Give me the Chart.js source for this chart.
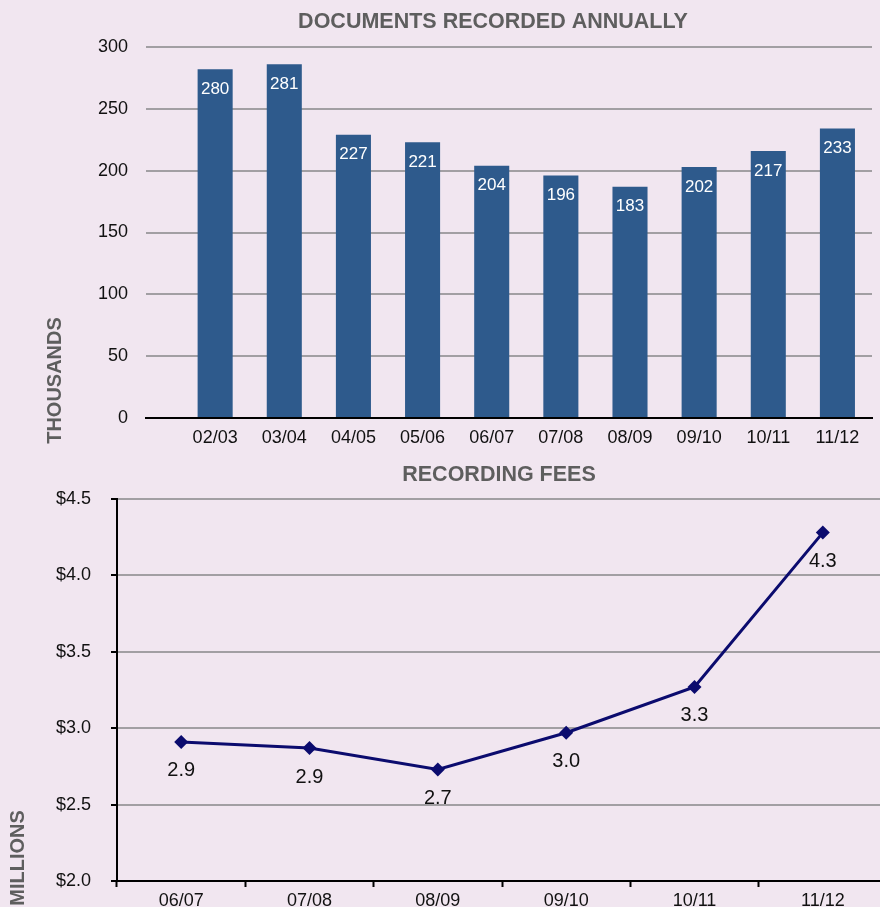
<!DOCTYPE html>
<html><head><meta charset="utf-8">
<script src="https://cdn.jsdelivr.net/npm/chart.js@4.4.0/dist/chart.umd.min.js"></script>
<style>
html,body{margin:0;padding:0;width:880px;height:907px;overflow:hidden;background:#F1E6F0;}
#c1{position:absolute;left:0;top:0;}
#c2{position:absolute;left:0;top:455px;}
</style></head><body>
<canvas id="c1" width="880" height="458"></canvas>
<canvas id="c2" width="900" height="470"></canvas>
<script>
// ---- Documents recorded annually (thousands)
const docYears = ['02/03','03/04','04/05','05/06','06/07','07/08','08/09','09/10','10/11','11/12'];
const docValues = [282, 286, 229, 223, 204, 196, 187, 203, 216, 234];
const docLabels = ['280','281','227','221','204','196','183','202','217','233'];
const docTickLabels = ['0','50','100','150','200','250','300'];

// ---- Recording fees (millions)
const feeYears = ['06/07','07/08','08/09','09/10','10/11','11/12'];
const feeValues = [2.91, 2.87, 2.73, 2.97, 3.27, 4.28];
const feeLabels = ['2.9','2.9','2.7','3.0','3.3','4.3'];
const feeTickLabels = ['$2.0','$2.5','$3.0','$3.5','$4.0','$4.5'];

const F = "'Liberation Sans', Arial, Helvetica, sans-serif";
const TITLE_GRAY = '#5E5E5E';
const GRID = '#A29FA3';

function textPlugin(id, items) {
  return {
    id,
    afterDraw(chart) {
      const ctx = chart.ctx;
      items.forEach(it => {
        ctx.save();
        ctx.translate(it.x, it.y);
        if (it.rot) ctx.rotate(it.rot);
        ctx.font = it.font;
        ctx.fillStyle = it.color;
        ctx.textAlign = 'center';
        ctx.textBaseline = 'middle';
        ctx.fillText(it.text, 0, 0);
        ctx.restore();
      });
    }
  };
}

const barLabelPlugin = {
  id: 'barLabels',
  afterDatasetsDraw(chart) {
    const ctx = chart.ctx;
    const meta = chart.getDatasetMeta(0);
    ctx.save();
    ctx.fillStyle = '#FFFFFF';
    ctx.font = '17px ' + F;
    ctx.textAlign = 'center';
    ctx.textBaseline = 'middle';
    meta.data.forEach((el, i) => ctx.fillText(docLabels[i], el.x, el.y + 20));
    ctx.restore();
  }
};

const pointLabelPlugin = {
  id: 'pointLabels',
  afterDatasetsDraw(chart) {
    const ctx = chart.ctx;
    const meta = chart.getDatasetMeta(0);
    ctx.save();
    ctx.fillStyle = '#111111';
    ctx.font = '20px ' + F;
    ctx.textAlign = 'center';
    ctx.textBaseline = 'middle';
    meta.data.forEach((el, i) => ctx.fillText(feeLabels[i], el.x, el.y + 29));
    ctx.restore();
  }
};

new Chart(document.getElementById('c1'), {
  type: 'bar',
  data: {
    datasets: [{
      data: docValues.map((v, i) => ({ x: i, y: v })),
      backgroundColor: '#2E5A8C',
      barPercentage: 0.507,
      categoryPercentage: 1
    }]
  },
  options: {
    responsive: false, animation: false, devicePixelRatio: 1,
    layout: { padding: { top: 47, right: 8, left: 0, bottom: 0 } },
    plugins: { legend: { display: false }, tooltip: { enabled: false } },
    scales: {
      x: {
        type: 'linear', min: -1, max: 9.5, offset: false,
        afterBuildTicks: s => { s.ticks = docYears.map((_, i) => ({ value: i })); },
        afterFit: s => { s.height = 40; },
        grid: { display: true, offset: false, drawOnChartArea: false, drawTicks: false },
        border: { display: true, color: '#000', width: 2 },
        ticks: { callback: v => docYears[v], color: '#111', font: { size: 18, family: F }, padding: 9, autoSkip: false, maxRotation: 0 }
      },
      y: {
        min: 0, max: 300,
        afterFit: s => { s.width = 146; },
        ticks: { stepSize: 50, callback: (v, i) => docTickLabels[i], color: '#111', font: { size: 18, family: F }, padding: 18 },
        grid: { color: GRID, lineWidth: 2, drawTicks: false },
        border: { display: false }
      }
    }
  },
  plugins: [barLabelPlugin, textPlugin('t1', [
    { text: 'DOCUMENTS RECORDED ANNUALLY', x: 493, y: 22, font: 'bold 21.5px ' + F, color: TITLE_GRAY },
    { text: 'THOUSANDS', x: 55, y: 380.5, rot: -Math.PI / 2, font: 'bold 20px ' + F, color: TITLE_GRAY }
  ])]
});

new Chart(document.getElementById('c2'), {
  type: 'line',
  data: {
    labels: feeYears,
    datasets: [{
      data: feeValues,
      borderColor: '#0B0B6E', borderWidth: 3, tension: 0,
      pointStyle: 'rectRot', pointRadius: 7,
      pointBackgroundColor: '#0B0B6E', pointBorderColor: '#0B0B6E', pointBorderWidth: 0
    }]
  },
  options: {
    responsive: false, animation: false, devicePixelRatio: 1,
    layout: { padding: { top: 44, right: 13, left: 0, bottom: 0 } },
    plugins: { legend: { display: false }, tooltip: { enabled: false } },
    scales: {
      x: {
        offset: true,
        afterFit: s => { s.height = 44; },
        grid: { offset: true, drawOnChartArea: false, drawTicks: true, tickLength: 6, tickColor: '#000', tickWidth: 2 },
        border: { color: '#000', width: 2 },
        ticks: { color: '#111', font: { size: 18, family: F }, padding: 3, autoSkip: false, maxRotation: 0 }
      },
      y: {
        min: 2, max: 4.5,
        afterFit: s => { s.width = 117; },
        ticks: { stepSize: 0.5, callback: (v, i) => feeTickLabels[i], color: '#111', font: { size: 18, family: F }, padding: 20 },
        grid: { color: GRID, lineWidth: 2, tickLength: 6, tickColor: '#000', tickWidth: 2 },
        border: { color: '#000', width: 2 }
      }
    }
  },
  plugins: [pointLabelPlugin, textPlugin('t2', [
    { text: 'RECORDING FEES', x: 499, y: 20, font: 'bold 21.5px ' + F, color: TITLE_GRAY },
    { text: 'MILLIONS', x: 18.5, y: 403, rot: -Math.PI / 2, font: 'bold 20px ' + F, color: TITLE_GRAY }
  ])]
});
</script>
</body></html>
